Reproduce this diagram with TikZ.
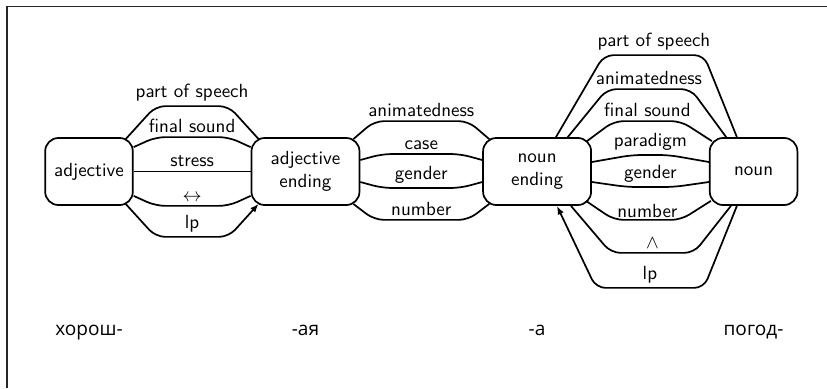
\documentclass[tikz,border=0pt]{standalone}
\usepackage{fontspec}
\newfontfamily\cyrfont{Open Sans}
\usetikzlibrary{arrows.meta,positioning}

\begin{document}
\begin{tikzpicture}[
  x=0.525pt, y=0.525pt,
  font=\sffamily,
  box/.style={draw, line width=0.9pt, rounded corners=7pt, align=center, minimum width=46pt, minimum height=35.2pt},
  wide/.style={box, minimum width=56.7pt},
  stem/.style={font=\cyrfont\fontsize{10pt}{12pt}\selectfont, text height=1.5ex, text depth=.25ex},
  link/.style={line width=0.9pt, rounded corners=5pt},
  arrow/.style={link, -{Latex[length=4.5pt, width=3.5pt]}},
  lbl/.style={above, inner sep=2pt}
]
\useasboundingbox (-89,-216.5) rectangle (738,171.5);
\draw[line width=1pt, black!85] (-82,-216.5) |- (738,165);

\node[box] (adj) at (0,0) {adjective};
\node[wide, right=61.4pt of adj] (adjend) {adjective\\ending};
\node[wide, right=64pt of adjend] (nounend) {noun\\ending};
\node[box, right=61.4pt of nounend] (noun) {noun};

\node[stem, below=58pt of adj] (khorosh) {хорош-};
\node[stem, below=58pt of adjend] (aja) {-ая};
\node[stem, below=58pt of nounend] (a) {-а};
\node[stem, below=58pt of noun] (pogod) {погод-};

% adjective -- adjective ending
\draw[link] ([shift={(-8,-2)}]adj.north east) -- ++(30,33) -- node[lbl] {part of speech} ([shift={(-22,31)}]adjend.north west) -- ([shift={(8,-2)}]adjend.north west);
\draw[link] ([shift={(0,-10)}]adj.north east) -- ++(22,10) -- node[lbl] {final sound} ([shift={(-22,0)}]adjend.north west) -- ([shift={(0,-10)}]adjend.north west);
\draw[link] (adj) -- node[lbl] {stress} (adjend);
\draw[link] ([shift={(0,10)}]adj.south east) -- ++(22,-10) -- node[lbl] {$\leftrightarrow$} ([shift={(-22,0)}]adjend.south west) -- ([shift={(0,10)}]adjend.south west);
\draw[arrow] ([shift={(-8,2)}]adj.south east) -- ++(30,-33) -- node[lbl] {lp} ([shift={(-22,-31)}]adjend.south west) -- ([shift={(8,2)}]adjend.south west);

% adjective ending -- noun ending
\draw[link] ([shift={(-7,-2)}]adjend.north east) -- ++(21,18) -- node[lbl] {animatedness} ([shift={(-14,16)}]nounend.north west) -- ([shift={(7,-2)}]nounend.north west);
\draw[link] ([shift={(0,11.5)}]adjend.east) -- ++(22,6) -- node[lbl] {case} ([shift={(-22,17.5)}]nounend.west) -- ([shift={(0,11.5)}]nounend.west);
\draw[link] ([shift={(0,-10.5)}]adjend.east) -- ++(22,-6) -- node[lbl] {gender} ([shift={(-22,-16.5)}]nounend.west) -- ([shift={(0,-10.5)}]nounend.west);
\draw[link] ([shift={(-7,2)}]adjend.south east) -- ++(21,-16) -- node[lbl] {number} ([shift={(-14,-14)}]nounend.south west) -- ([shift={(7,2)}]nounend.south west);

% noun ending -- noun
\draw[link] ([shift={(-36,0)}]nounend.north east) -- ++(48,82) -- node[lbl] {part of speech} ([shift={(-5,82)}]noun.north west) -- ([shift={(28,0)}]noun.north west);
\draw[link] ([shift={(-25,-1)}]nounend.north east) -- ++(40,49) -- node[lbl] {animatedness} ([shift={(-18,48)}]noun.north west) -- ([shift={(18,-1)}]noun.north west);
\draw[link] ([shift={(-5,-4)}]nounend.north east) -- ++(27,20) -- node[lbl] {final sound} ([shift={(-28,16)}]noun.north west) -- ([shift={(3,-4)}]noun.north west);
\draw[link] ([shift={(0,9.5)}]nounend.east) -- ++(40,7) -- node[lbl] {paradigm} ([shift={(-40,16.5)}]noun.west) -- ([shift={(0,9.5)}]noun.west);
\draw[link] ([shift={(0,-10.5)}]nounend.east) -- ++(35,-5) -- node[lbl] {gender} ([shift={(-35,-15.5)}]noun.west) -- ([shift={(0,-10.5)}]noun.west);
\draw[link] ([shift={(-6,5)}]nounend.south east) -- ++(28,-19) -- node[lbl, inner sep=0.5pt] {number} ([shift={(-28,-14)}]noun.south west) -- ([shift={(2,5)}]noun.south west);
\draw[link] ([shift={(-21,0)}]nounend.south east) -- ++(40,-47) -- node[lbl] {$\wedge$} ([shift={(-15,-47)}]noun.south west) -- ([shift={(22,0)}]noun.south west);
\draw[arrow] ([shift={(28,0)}]noun.south west) -- ++(-33,-82) -- node[lbl] {lp} ([shift={(4,-82)}]nounend.south east) -- ([shift={(-35,0)}]nounend.south east);
\end{tikzpicture}
\end{document}
